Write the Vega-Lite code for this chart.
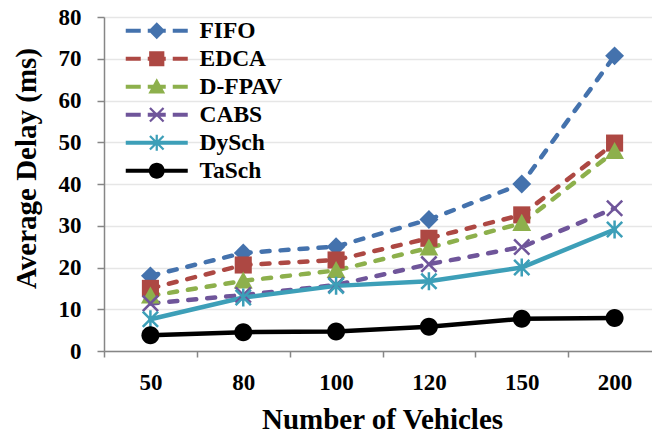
{
  "$schema": "https://vega.github.io/schema/vega-lite/v6.json",
  "width": 548,
  "height": 334,
  "autosize": {"type": "none"},
  "padding": {"left": 104, "top": 17, "right": 0, "bottom": 83},
  "background": "white",
  "config": {"view": {"stroke": null}, "font": "Liberation Serif"},
  "data": {
    "values": [
      {"vehicles": 50, "series": "FIFO", "delay": 18},
      {"vehicles": 80, "series": "FIFO", "delay": 23.5},
      {"vehicles": 100, "series": "FIFO", "delay": 25},
      {"vehicles": 120, "series": "FIFO", "delay": 31.5},
      {"vehicles": 150, "series": "FIFO", "delay": 40},
      {"vehicles": 200, "series": "FIFO", "delay": 70.7},
      {"vehicles": 50, "series": "EDCA", "delay": 15},
      {"vehicles": 80, "series": "EDCA", "delay": 20.6},
      {"vehicles": 100, "series": "EDCA", "delay": 21.8},
      {"vehicles": 120, "series": "EDCA", "delay": 27},
      {"vehicles": 150, "series": "EDCA", "delay": 32.6},
      {"vehicles": 200, "series": "EDCA", "delay": 49.8},
      {"vehicles": 50, "series": "D-FPAV", "delay": 13.2},
      {"vehicles": 80, "series": "D-FPAV", "delay": 16.8},
      {"vehicles": 100, "series": "D-FPAV", "delay": 19.3},
      {"vehicles": 120, "series": "D-FPAV", "delay": 24.7},
      {"vehicles": 150, "series": "D-FPAV", "delay": 30.6},
      {"vehicles": 200, "series": "D-FPAV", "delay": 47.8},
      {"vehicles": 50, "series": "CABS", "delay": 11.4},
      {"vehicles": 80, "series": "CABS", "delay": 13.4},
      {"vehicles": 100, "series": "CABS", "delay": 15.8},
      {"vehicles": 120, "series": "CABS", "delay": 20.8},
      {"vehicles": 150, "series": "CABS", "delay": 24.9},
      {"vehicles": 200, "series": "CABS", "delay": 34.2},
      {"vehicles": 50, "series": "DySch", "delay": 7.6},
      {"vehicles": 80, "series": "DySch", "delay": 12.8},
      {"vehicles": 100, "series": "DySch", "delay": 15.6},
      {"vehicles": 120, "series": "DySch", "delay": 16.7},
      {"vehicles": 150, "series": "DySch", "delay": 20},
      {"vehicles": 200, "series": "DySch", "delay": 29.1},
      {"vehicles": 50, "series": "TaSch", "delay": 3.8},
      {"vehicles": 80, "series": "TaSch", "delay": 4.5},
      {"vehicles": 100, "series": "TaSch", "delay": 4.7},
      {"vehicles": 120, "series": "TaSch", "delay": 5.8},
      {"vehicles": 150, "series": "TaSch", "delay": 7.7},
      {"vehicles": 200, "series": "TaSch", "delay": 7.9}
    ]
  },
  "encoding": {
    "x": {
      "field": "vehicles",
      "type": "ordinal",
      "sort": [50, 80, 100, 120, 150, 200],
      "scale": {"type": "band", "paddingInner": 0, "paddingOuter": 0, "range": [0, 557]},
      "axis": {
        "labelAngle": 0,
        "grid": false,
        "tickBand": "extent",
        "domainColor": "#868686",
        "domainWidth": 1.5,
        "tickColor": "#868686",
        "tickWidth": 1.5,
        "tickSize": 6,
        "labelFont": "Liberation Serif",
        "labelFontSize": 23,
        "labelFontWeight": "bold",
        "labelColor": "black",
        "labelPadding": 14,
        "title": "Number of Vehicles",
        "titleFont": "Liberation Serif",
        "titleFontSize": 29,
        "titleFontWeight": "bold",
        "titleColor": "black",
        "titleX": 278,
        "titleY": 77,
        "titleAlign": "center",
        "titleBaseline": "alphabetic"
      }
    },
    "y": {
      "field": "delay",
      "type": "quantitative",
      "scale": {"domain": [0, 80]},
      "axis": {
        "values": [0, 10, 20, 30, 40, 50, 60, 70, 80],
        "grid": true,
        "gridColor": "#e6e6e6",
        "gridWidth": 1.5,
        "domainColor": "#868686",
        "domainWidth": 1.5,
        "tickColor": "#868686",
        "tickWidth": 1.5,
        "tickSize": 7,
        "labelFont": "Liberation Serif",
        "labelFontSize": 23,
        "labelFontWeight": "bold",
        "labelColor": "black",
        "labelPadding": 16,
        "title": "Average Delay (ms)",
        "titleFont": "Liberation Serif",
        "titleFontSize": 29,
        "titleFontWeight": "bold",
        "titleColor": "black",
        "titleAngle": -90,
        "titleX": -69,
        "titleY": 151,
        "titleAlign": "center",
        "titleBaseline": "alphabetic"
      }
    },
    "color": {
      "field": "series",
      "type": "nominal",
      "scale": {
        "domain": ["FIFO", "EDCA", "D-FPAV", "CABS", "DySch", "TaSch"],
        "range": ["#4472ad", "#ad4843", "#8db04c", "#6f559a", "#3d9fb8", "#000000"]
      },
      "legend": {
        "title": null,
        "orient": "none",
        "legendX": 41,
        "legendY": 2,
        "padding": 0,
        "labelFont": "Liberation Serif",
        "labelFontSize": 23.5,
        "labelFontWeight": "bold",
        "labelColor": "black",
        "labelOffset": 31,
        "rowPadding": 3,
        "symbolSize": 256,
        "symbolOpacity": 1,
        "symbolStrokeWidth": 0,
        "encode": {
          "symbols": {
            "update": {
              "size": {"value": 256},
              "opacity": {"value": 1},
              "fill": {"scale": "color", "field": "value"},
              "stroke": {"value": "transparent"},
              "strokeWidth": {"value": 0},
              "shape": {
                "signal": "datum.value === 'FIFO' ? 'M-3.875,-0.25H-2V0.25H-3.875Z M-1.125,-0.25H1.125V0.25H-1.125Z M2,-0.25H3.875V0.25H2Z M0,-1.05L1.05,0L0,1.05L-1.05,0Z' : datum.value === 'EDCA' ? 'M-3.875,-0.25H-2V0.25H-3.875Z M-1.125,-0.25H1.125V0.25H-1.125Z M2,-0.25H3.875V0.25H2Z M-0.95,-0.95H0.95V0.95H-0.95Z' : datum.value === 'D-FPAV' ? 'M-3.875,-0.25H-2V0.25H-3.875Z M-1.125,-0.25H1.125V0.25H-1.125Z M2,-0.25H3.875V0.25H2Z M0,-1.05L1.05,0.85H-1.05Z' : datum.value === 'CABS' ? 'M-3.875,-0.25H-2V0.25H-3.875Z M-1.125,-0.25H1.125V0.25H-1.125Z M2,-0.25H3.875V0.25H2Z M-0.95,-0.75L-0.75,-0.95L0.95,0.75L0.75,0.95Z M0.95,-0.75L-0.75,0.95L-0.95,0.75L0.75,-0.95Z' : datum.value === 'DySch' ? 'M-3.875,-0.25H3.875V0.25H-3.875Z M-0.95,-0.75L-0.75,-0.95L0.95,0.75L0.75,0.95Z M0.95,-0.75L-0.75,0.95L-0.95,0.75L0.75,-0.95Z M-0.14,-1H0.14V1H-0.14Z' : 'M-3.875,-0.25H3.875V0.25H-3.875Z M-1,0A1,1,0,1,1,1,0A1,1,0,1,1,-1,0Z'"
              }
            }
          }
        }
      }
    }
  },
  "layer": [
    {
      "transform": [{"filter": "datum.series !== 'DySch' && datum.series !== 'TaSch'"}],
      "mark": {"type": "line", "strokeWidth": 4.5, "strokeCap": "round", "strokeDash": [8, 11]}
    },
    {
      "transform": [{"filter": "datum.series === 'DySch' || datum.series === 'TaSch'"}],
      "mark": {"type": "line", "strokeWidth": 4.5, "strokeCap": "round"}
    },
    {
      "transform": [{"filter": "datum.series === 'FIFO'"}],
      "mark": {"type": "point", "filled": true, "size": 324, "opacity": 1, "shape": "M0,-1.05L1.05,0L0,1.05L-1.05,0Z"}
    },
    {
      "transform": [{"filter": "datum.series === 'EDCA'"}],
      "mark": {"type": "point", "filled": true, "size": 324, "opacity": 1, "shape": "M-0.95,-0.95H0.95V0.95H-0.95Z"}
    },
    {
      "transform": [{"filter": "datum.series === 'D-FPAV'"}],
      "mark": {"type": "point", "filled": true, "size": 324, "opacity": 1, "shape": "M0,-1.05L1.05,0.85H-1.05Z"}
    },
    {
      "transform": [{"filter": "datum.series === 'CABS'"}],
      "mark": {"type": "point", "filled": true, "size": 324, "opacity": 1, "shape": "M-0.95,-0.75L-0.75,-0.95L0.95,0.75L0.75,0.95Z M0.95,-0.75L-0.75,0.95L-0.95,0.75L0.75,-0.95Z"}
    },
    {
      "transform": [{"filter": "datum.series === 'DySch'"}],
      "mark": {"type": "point", "filled": true, "size": 324, "opacity": 1, "shape": "M-0.95,-0.75L-0.75,-0.95L0.95,0.75L0.75,0.95Z M0.95,-0.75L-0.75,0.95L-0.95,0.75L0.75,-0.95Z M-0.14,-1H0.14V1H-0.14Z"}
    },
    {
      "transform": [{"filter": "datum.series === 'TaSch'"}],
      "mark": {"type": "point", "filled": true, "size": 324, "opacity": 1, "shape": "M-1,0A1,1,0,1,1,1,0A1,1,0,1,1,-1,0Z"}
    }
  ]
}
